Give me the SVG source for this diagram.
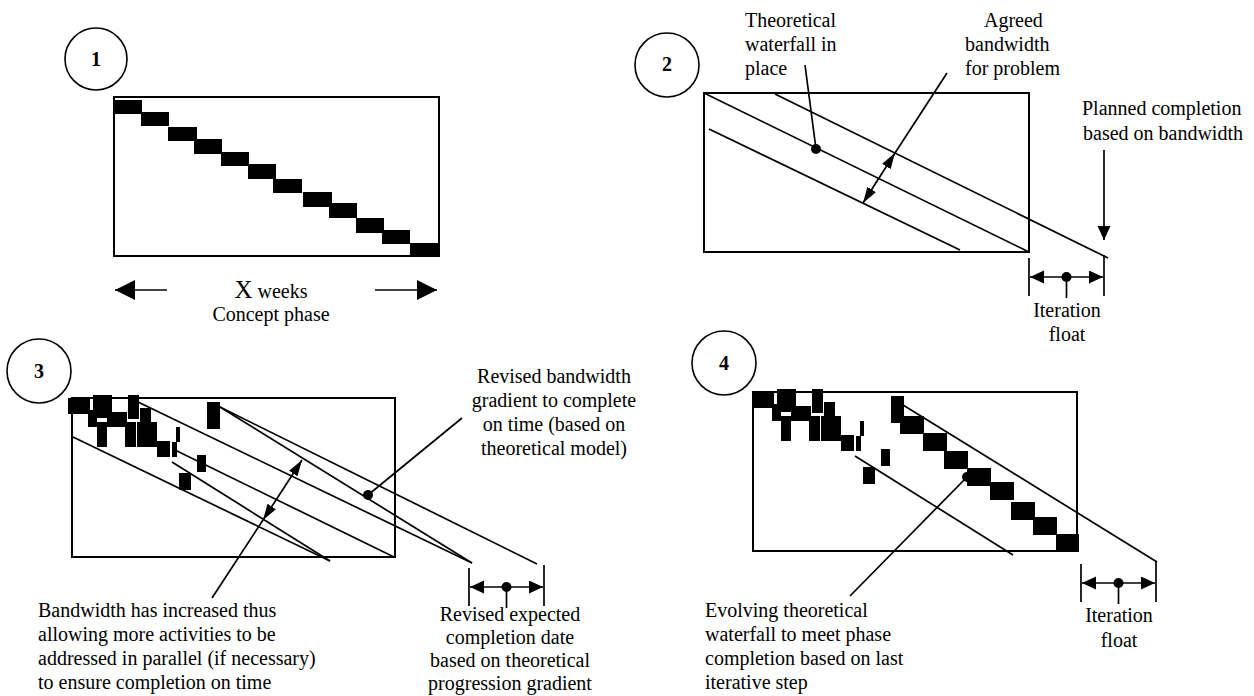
<svg xmlns="http://www.w3.org/2000/svg" width="1254" height="696" viewBox="0 0 1254 696">
  <style>
    text { font-family: "Liberation Serif", "Times New Roman", serif; font-size: 20px; fill: #000; }
    .num { font-weight: bold; text-anchor: middle; }
    .mid { text-anchor: middle; }
    .frame { fill: none; stroke: #000; stroke-width: 2; }
    .badge { fill: none; stroke: #000; stroke-width: 1.6; }
    .ln { fill: none; stroke: #000; stroke-width: 1.7; }
    .blk { fill: #000; }
  </style>
  <defs>
    <marker id="headBig" markerUnits="userSpaceOnUse" markerWidth="22" markerHeight="22" refX="20" refY="10" orient="auto">
      <path d="M0,0 L20,10 L0,20 Z" fill="#000"/>
    </marker>
    <marker id="headMid" markerUnits="userSpaceOnUse" markerWidth="18" markerHeight="12" refX="16" refY="5" orient="auto-start-reverse">
      <path d="M0,0 L16,5 L0,10 Z" fill="#000"/>
    </marker>
    <marker id="headFloat" markerUnits="userSpaceOnUse" markerWidth="16" markerHeight="14" refX="14" refY="6.5" orient="auto-start-reverse">
      <path d="M0,0 L14,6.5 L0,13 Z" fill="#000"/>
    </marker>
    <!-- cluster of slipped / overlapping activities, origin at its first bar -->
    <g id="slipCluster">
      <rect class="blk" x="0" y="0" width="22" height="16"/>
      <rect class="blk" x="25" y="-3" width="19" height="23"/>
      <rect class="blk" x="20" y="12" width="9" height="17"/>
      <rect class="blk" x="39" y="14" width="20" height="15"/>
      <rect class="blk" x="60" y="-3" width="11" height="24"/>
      <rect class="blk" x="29" y="24" width="10" height="25"/>
      <rect class="blk" x="57" y="24" width="11" height="25"/>
      <rect class="blk" x="72" y="10" width="11" height="39"/>
      <rect class="blk" x="69" y="24" width="20" height="25"/>
      <rect class="blk" x="89" y="43" width="13" height="16"/>
      <rect class="blk" x="104" y="44" width="5" height="15"/>
      <rect class="blk" x="108" y="29" width="4" height="15"/>
      <rect class="blk" x="129" y="57" width="9" height="17"/>
      <rect class="blk" x="111" y="75" width="12" height="17"/>
      <rect class="blk" x="139" y="4" width="13" height="27"/>
    </g>
    <!-- iteration float dimension: ticks, double arrow, centre dot and stem -->
    <g id="floatDim">
      <line class="ln" x1="0" y1="0" x2="0" y2="38"/>
      <line class="ln" x1="75" y1="-3" x2="75" y2="38"/>
      <path class="ln" d="M1,19 L74,19" marker-start="url(#headFloat)" marker-end="url(#headFloat)"/>
      <circle cx="37.5" cy="19" r="5" fill="#000"/>
      <line class="ln" x1="37.5" y1="19" x2="37.5" y2="40"/>
    </g>
  </defs>

  <!-- Panel 1: planned concept phase -->
  <g id="panel1">
    <circle class="badge" cx="96" cy="59" r="31"/>
    <text class="num" x="96" y="66">1</text>
    <rect class="frame" x="114" y="97" width="325" height="159"/>
    <g id="p1-steps">
      <rect class="blk" x="114" y="100" width="28" height="14"/>
      <rect class="blk" x="141" y="112" width="28" height="14"/>
      <rect class="blk" x="168" y="127" width="29" height="14"/>
      <rect class="blk" x="194" y="139" width="28" height="15"/>
      <rect class="blk" x="221" y="152" width="28" height="14"/>
      <rect class="blk" x="248" y="164" width="28" height="15"/>
      <rect class="blk" x="273" y="179" width="29" height="14"/>
      <rect class="blk" x="303" y="192" width="29" height="15"/>
      <rect class="blk" x="329" y="203" width="28" height="15"/>
      <rect class="blk" x="356" y="218" width="28" height="15"/>
      <rect class="blk" x="382" y="230" width="28" height="14"/>
      <rect class="blk" x="410" y="243" width="29" height="13"/>
    </g>
    <g id="p1-duration">
      <line class="ln" x1="167" y1="290" x2="115" y2="290" marker-end="url(#headBig)"/>
      <line class="ln" x1="375" y1="290" x2="437" y2="290" marker-end="url(#headBig)"/>
      <text class="mid" x="271" y="298"><tspan font-size="25">X</tspan> weeks</text>
      <text class="mid" x="271" y="321">Concept phase</text>
    </g>
  </g>

  <!-- Panel 2: theoretical waterfall and agreed bandwidth -->
  <g id="panel2">
    <circle class="badge" cx="667" cy="65" r="32"/>
    <text class="num" x="667" y="71">2</text>
    <rect class="frame" x="704" y="93" width="325" height="159"/>
    <text x="745" y="27">Theoretical</text>
    <text x="745" y="51">waterfall in</text>
    <text x="745" y="75">place</text>
    <text x="984" y="27">Agreed</text>
    <text x="965" y="51">bandwidth</text>
    <text x="965" y="75">for problem</text>
    <text x="1082" y="115">Planned completion</text>
    <text x="1083" y="140">based on bandwidth</text>
    <text class="mid" x="1067" y="317">Iteration</text>
    <text class="mid" x="1067" y="341">float</text>
  </g>

  <!-- Panel 3: slipped activities and revised gradient -->
  <g id="panel3">
    <circle class="badge" cx="39" cy="371" r="32"/>
    <text class="num" x="39" y="378">3</text>
    <rect class="frame" x="72" y="398" width="323" height="159"/>
    <use href="#slipCluster" x="68" y="398"/>
    <text class="mid" x="554" y="383">Revised bandwidth</text>
    <text class="mid" x="554" y="407">gradient to complete</text>
    <text class="mid" x="554" y="431">on time (based on</text>
    <text class="mid" x="554" y="455">theoretical model)</text>
    <text x="38" y="617">Bandwidth has increased thus</text>
    <text x="38" y="641">allowing more activities to be</text>
    <text x="38" y="665">addressed in parallel (if necessary)</text>
    <text x="38" y="689">to ensure completion on time</text>
    <text class="mid" x="510" y="621">Revised expected</text>
    <text class="mid" x="510" y="644">completion date</text>
    <text class="mid" x="510" y="667">based on theoretical</text>
    <text class="mid" x="510" y="690">progression gradient</text>
  </g>

  <!-- Panel 4: evolving waterfall -->
  <g id="panel4">
    <circle class="badge" cx="724" cy="363" r="32"/>
    <text class="num" x="724" y="370">4</text>
    <rect class="frame" x="753" y="392" width="324" height="159"/>
    <use href="#slipCluster" x="752" y="392"/>
    <g id="p4-steps">
      <rect class="blk" x="900" y="416" width="24" height="18"/>
      <rect class="blk" x="923" y="433" width="24" height="18"/>
      <rect class="blk" x="944" y="451" width="24" height="18"/>
      <rect class="blk" x="967" y="468" width="24" height="18"/>
      <rect class="blk" x="990" y="482" width="24" height="18"/>
      <rect class="blk" x="1011" y="502" width="24" height="18"/>
      <rect class="blk" x="1033" y="517" width="24" height="18"/>
      <rect class="blk" x="1056" y="534" width="23" height="18"/>
    </g>
    <text x="705" y="617">Evolving theoretical</text>
    <text x="705" y="641">waterfall to meet phase</text>
    <text x="705" y="665">completion based on last</text>
    <text x="705" y="689">iterative step</text>
    <text class="mid" x="1119" y="622">Iteration</text>
    <text class="mid" x="1119" y="647">float</text>
  </g>

  <!-- connectors: gradient lines, leaders, dimension arrows -->
  <g id="connectors">
    <!-- panel 2 band -->
    <line class="ln" x1="704" y1="93" x2="1029" y2="252"/>
    <line class="ln" x1="775" y1="94" x2="1108" y2="258"/>
    <line class="ln" x1="709" y1="129" x2="960" y2="250"/>
    <circle cx="816" cy="149" r="5" fill="#000"/>
    <line class="ln" x1="805" y1="65" x2="816" y2="149"/>
    <line class="ln" x1="947" y1="73" x2="895" y2="153"/>
    <path class="ln" d="M895,153 L863,203" marker-start="url(#headMid)" marker-end="url(#headMid)"/>
    <line class="ln" x1="1104" y1="150" x2="1104" y2="240" marker-end="url(#headFloat)"/>
    <use href="#floatDim" x="1029" y="258"/>

    <!-- panel 3 gradients -->
    <line class="ln" x1="73" y1="437" x2="330" y2="561"/>
    <line class="ln" x1="172" y1="462" x2="330" y2="561"/>
    <line class="ln" x1="175" y1="450" x2="394" y2="557"/>
    <line class="ln" x1="138" y1="402" x2="472" y2="563"/>
    <line class="ln" x1="220" y1="407" x2="472" y2="563"/>
    <line class="ln" x1="220" y1="407" x2="537" y2="564"/>
    <circle cx="368" cy="495" r="5" fill="#000"/>
    <line class="ln" x1="368" y1="495" x2="462" y2="418"/>
    <line class="ln" x1="212" y1="598" x2="263" y2="520"/>
    <path class="ln" d="M263,520 L302,460" marker-start="url(#headMid)" marker-end="url(#headMid)"/>
    <use href="#floatDim" x="469" y="568"/>

    <!-- panel 4 gradients -->
    <line class="ln" x1="903" y1="405" x2="1157" y2="562"/>
    <line class="ln" x1="855" y1="456" x2="1013" y2="555"/>
    <circle cx="967" cy="477" r="5" fill="#000"/>
    <line class="ln" x1="967" y1="477" x2="850" y2="596"/>
    <use href="#floatDim" x="1081" y="564"/>
  </g>
</svg>
